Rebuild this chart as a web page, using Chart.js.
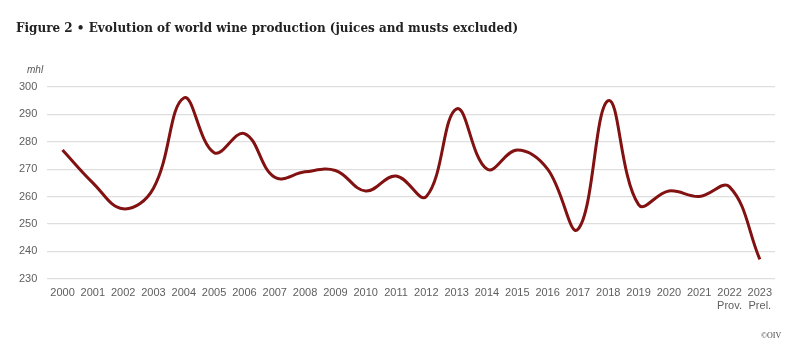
<!DOCTYPE html>
<html>
<head>
<meta charset="utf-8">
<script src="https://cdn.jsdelivr.net/npm/chart.js@4"></script>
<style>
html,body{margin:0;padding:0;background:#fff;}
#wrap{position:relative;width:800px;height:354px;}
#title{position:absolute;left:16px;top:21px;font-family:"DejaVu Serif",serif;font-weight:bold;font-size:12px;color:#222;white-space:nowrap;}
#unit{position:absolute;left:27px;top:64px;font-family:"Liberation Sans",sans-serif;font-style:italic;font-size:10px;color:#555;}
#src{position:absolute;left:761px;top:331px;font-family:"Liberation Serif",serif;font-size:8px;color:#444;}
canvas{position:absolute;left:0;top:0;}
</style>
</head>
<body>
<div id="wrap">
<canvas id="c" width="800" height="354"></canvas>
<div id="title">Figure 2 • Evolution of world wine production (juices and musts excluded)</div>
<div id="unit">mhl</div>
<div id="src">©OIV</div>
</div>
<script>
const years = ['2000','2001','2002','2003','2004','2005','2006','2007','2008','2009','2010','2011','2012','2013','2014','2015','2016','2017','2018','2019','2020','2021','2022','2023'];
const yearNotes = {'2022':'Prov.','2023':'Prel.'};
const production = [277,265,255.5,263,296,276,283,267,269,269.5,262,267.5,260,292,270,277,270,248,295,257,262,260,263.5,237];
const yTicks = {min:230, max:300, step:10};

const labels = years.map(y => yearNotes[y] ? [y, yearNotes[y]] : y);

new Chart(document.getElementById('c'), {
  type:'line',
  data:{labels:labels, datasets:[{data:production, borderColor:'#821111', borderWidth:3, tension:0.4, pointRadius:0, fill:false}]},
  options:{
    responsive:false, animation:false,
    layout:{padding:{left:9, right:25, top:87, bottom:33}},
    plugins:{legend:{display:false}, tooltip:{enabled:false}},
    scales:{
      x:{offset:true, grid:{display:false, drawTicks:false}, border:{display:false},
         ticks:{color:'#5e5e5e', font:{family:'Liberation Sans', size:11}, padding:8, maxRotation:0, autoSkip:false}},
      y:{min:yTicks.min, max:yTicks.max, grid:{color:'#dedede', drawTicks:false, lineWidth:1.2}, border:{display:false},
         ticks:{stepSize:yTicks.step, color:'#5e5e5e', font:{family:'Liberation Sans', size:11}, padding:10}}
    }
  }
});
</script>
</body>
</html>
